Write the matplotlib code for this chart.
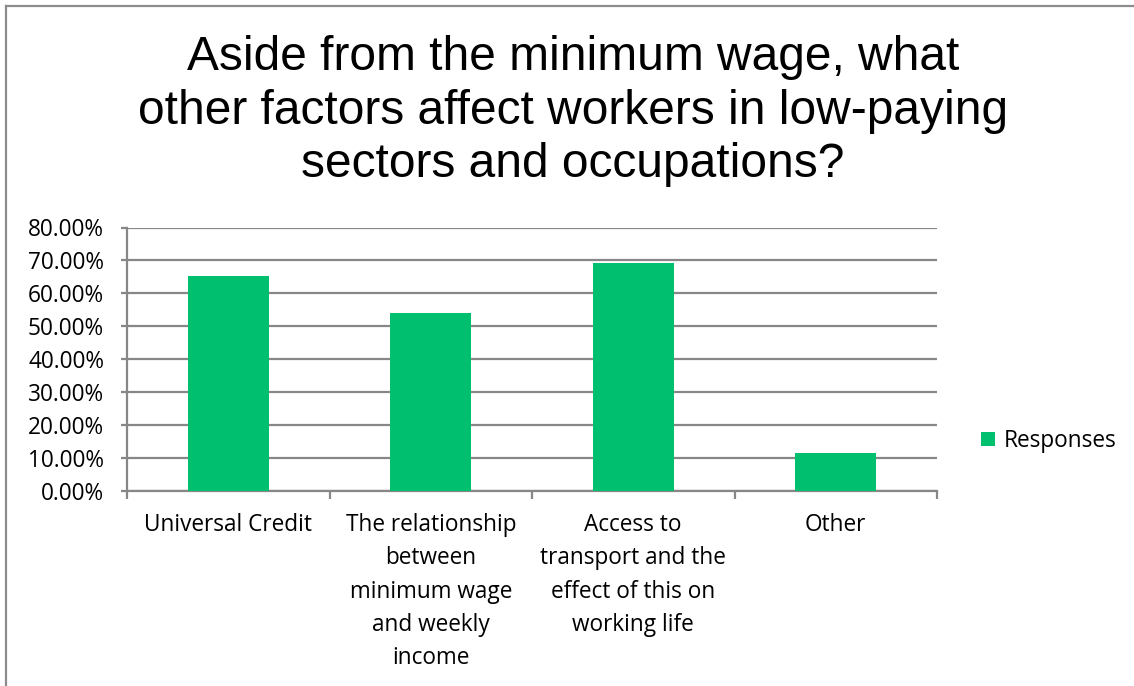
import matplotlib
matplotlib.use("Agg")
import matplotlib.pyplot as plt
from matplotlib.patches import Patch
from matplotlib.lines import Line2D
from matplotlib.ticker import FuncFormatter, FixedLocator

# Survey data
categories = [
    "Universal Credit",
    "The relationship\nbetween\nminimum wage\nand weekly\nincome",
    "Access to\ntransport and the\neffect of this on\nworking life",
    "Other",
]
responses = [65.3, 54.0, 69.2, 11.6]
series_name = "Responses"
title = "Aside from the minimum wage, what\nother factors affect workers in low-paying\nsectors and occupations?"

W, H = 1134, 686
bar_color = "#00BF6F"
grid_color = "#878787"
label_font = "Open Sans"
label_size = 16.3

fig = plt.figure(figsize=(W / 100, H / 100), dpi=100)
fig.patch.set_facecolor("white")

# outer chart frame (top and left edges visible)
fig.add_artist(Line2D([6 / W, 6 / W], [0, 1 - 6 / H], color="#8c8c8c", lw=1.6,
                      transform=fig.transFigure))
fig.add_artist(Line2D([6 / W, 1], [1 - 6 / H, 1 - 6 / H], color="#8c8c8c", lw=1.6,
                      transform=fig.transFigure))

ax_left, ax_right = 127 / W, 937 / W
ax_bottom, ax_top = 1 - 490.7 / H, 1 - 227.5 / H
ax = fig.add_axes([ax_left, ax_bottom, ax_right - ax_left, ax_top - ax_bottom])

x = list(range(len(categories)))
ax.bar(x, responses, width=0.4, color=bar_color, zorder=3)

ax.set_xlim(-0.5, len(categories) - 0.5)
ax.set_ylim(0, 80)
ax.yaxis.set_major_locator(FixedLocator([0, 10, 20, 30, 40, 50, 60, 70, 80]))
ax.yaxis.set_major_formatter(FuncFormatter(lambda v, p: f"{v:.2f}%"))
ax.grid(axis="y", color=grid_color, lw=1.6, zorder=0)
ax.set_axisbelow(True)

for s in ["top", "right"]:
    ax.spines[s].set_visible(False)
ax.spines["left"].set_color(grid_color)
ax.spines["left"].set_linewidth(1.6)
ax.spines["bottom"].set_color(grid_color)
ax.spines["bottom"].set_linewidth(1.6)

ax.tick_params(axis="y", length=4.5, width=1.6, color=grid_color, pad=12,
               labelsize=label_size, labelcolor="#000000")
for lab in ax.get_yticklabels():
    lab.set_fontfamily(label_font)

# category labels centred under bars, boundary ticks between them
ax.set_xticks(x)
ax.set_xticklabels(categories, fontfamily=label_font, fontsize=label_size,
                   linespacing=1.52, va="top")
ax.tick_params(axis="x", which="major", length=0, pad=16)
ax.set_xticks([i - 0.5 for i in range(len(categories) + 1)], minor=True)
ax.tick_params(axis="x", which="minor", length=6, width=1.6, color=grid_color,
               direction="out")

fig.text(573 / W, 1 - 111 / H, title, ha="center", va="center",
         fontsize=34.5, fontfamily="Liberation Sans", linespacing=1.24)

fig.legend(handles=[Patch(facecolor=bar_color, label=series_name)],
           loc="center left", bbox_to_anchor=(961 / W, 1 - 441 / H),
           frameon=False, handlelength=0.6, handleheight=0.6,
           handletextpad=0.4, prop={"family": label_font, "size": label_size})

fig.savefig("out.png", dpi=100, facecolor="white")
